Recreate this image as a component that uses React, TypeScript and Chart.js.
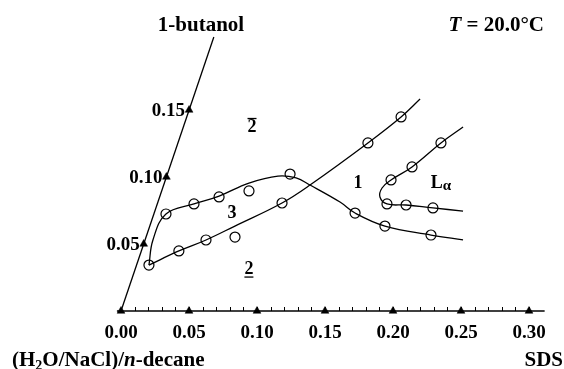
import React, { useEffect, useRef } from 'react';
import { Chart, registerables } from 'chart.js';

Chart.register(...registerables);

// ---- data (oblique coordinates: SDS mass fraction along the horizontal axis, 1-butanol along the tilted axis)
const SKEW = 0.3338; // horizontal shift of the tilted 1-butanol axis per unit butanol (in SDS units)

const sdsTicks = [0, 0.05, 0.1, 0.15, 0.2, 0.25, 0.3];
const sdsTickLabels = ['0.00', '0.05', '0.10', '0.15', '0.20', '0.25', '0.30'];
const butanolTicks = [0.05, 0.1, 0.15];
const butanolTickLabels = ['0.05', '0.10', '0.15'];
const minorStep = 0.01;
const sdsAxisEnd = 0.3115;
const butanolAxisEnd = 0.2045;

// phase boundary curves
const upperCurveSds = [0.0091, 0.0058, 0.0089, 0.027, 0.0435, 0.0622, 0.0818, 0.0956, 0.1076, 0.1339, 0.1477, 0.1729, 0.209, 0.2338];
const upperCurveBut = [0.0343, 0.053, 0.0724, 0.0799, 0.0858, 0.0955, 0.1007, 0.0993, 0.094, 0.0813, 0.0731, 0.0634, 0.0567, 0.053];
const lowerCurveSds = [0.0091, 0.0276, 0.0448, 0.0626, 0.0915, 0.1076, 0.1397, 0.1576, 0.1671];
const lowerCurveBut = [0.0343, 0.0448, 0.053, 0.0634, 0.0806, 0.094, 0.1254, 0.1448, 0.1582];
const lamellarCurveSds = [0.2057, 0.1934, 0.1781, 0.1659, 0.1613, 0.162, 0.1689, 0.1832, 0.2037, 0.2266];
const lamellarCurveBut = [0.1373, 0.1254, 0.1075, 0.0978, 0.0918, 0.0851, 0.0799, 0.0791, 0.0769, 0.0746];

// measured points
const threeUpperSds = [0.0089, 0.027, 0.0437, 0.0642, 0.0902];
const threeUpperBut = [0.0724, 0.0799, 0.0851, 0.0896, 0.1022];
const threeLowerSds = [0.0091, 0.0276, 0.0448, 0.0654, 0.0915];
const threeLowerBut = [0.0343, 0.0448, 0.053, 0.0552, 0.0806];
const onePhaseSds = [0.1477, 0.1729, 0.209, 0.1397, 0.1576];
const onePhaseBut = [0.0731, 0.0634, 0.0567, 0.1254, 0.1448];
const lamellarSds = [0.1659, 0.1781, 0.1934, 0.1689, 0.1832, 0.2037];
const lamellarBut = [0.0978, 0.1075, 0.1254, 0.0799, 0.0791, 0.0769];

// region labels: [text, sds, butanol, decoration]
const regionLabels: [string, number, number, string][] = [
  ['2', 0.0505, 0.1373, 'over'],
  ['3', 0.0572, 0.0731, ''],
  ['2', 0.0836, 0.0313, 'under'],
  ['1', 0.1424, 0.0955, ''],
  ['L', 0.2034, 0.0955, 'alpha'],
];

const W = 564;
const H = 369;
const FONT = '"Liberation Serif", "Times New Roman", serif';

const toPts = (s: number[], b: number[]) => s.map((v, i) => ({ x: v + SKEW * b[i], y: b[i] }));

const overlay = {
  id: 'overlay',
  beforeDatasetsDraw(chart: any) {
    const ctx = chart.ctx;
    const xs = chart.scales.x;
    const ys = chart.scales.y;
    const px = (s: number, b: number) => xs.getPixelForValue(s + SKEW * b);
    const py = (b: number) => ys.getPixelForValue(b);
    ctx.save();
    ctx.strokeStyle = '#000';
    ctx.lineWidth = 1.3;
    ctx.beginPath();
    ctx.moveTo(px(-0.003, 0), py(0));
    ctx.lineTo(px(sdsAxisEnd, 0), py(0));
    ctx.stroke();
    ctx.lineWidth = 1;
    for (let i = 1; i * minorStep < 0.3 + 1e-9; i++) {
      const x = Math.round(px(i * minorStep, 0)) + 0.5;
      ctx.beginPath();
      ctx.moveTo(x, py(0));
      ctx.lineTo(x, py(0) - 4);
      ctx.stroke();
    }
    ctx.lineWidth = 1.3;
    ctx.beginPath();
    ctx.moveTo(px(0, 0), py(0));
    ctx.lineTo(px(0, butanolAxisEnd), py(butanolAxisEnd));
    ctx.stroke();
    ctx.restore();
  },
  afterDatasetsDraw(chart: any) {
    const ctx = chart.ctx;
    const xs = chart.scales.x;
    const ys = chart.scales.y;
    const px = (s: number, b: number) => xs.getPixelForValue(s + SKEW * b);
    const py = (b: number) => ys.getPixelForValue(b);
    ctx.save();
    ctx.fillStyle = '#000';
    ctx.strokeStyle = '#000';
    // x tick labels
    ctx.font = `bold 19px ${FONT}`;
    ctx.textAlign = 'center';
    ctx.textBaseline = 'alphabetic';
    sdsTicks.forEach((t, i) => ctx.fillText(sdsTickLabels[i], px(t, 0), py(0) + 27));
    // tilted tick labels
    ctx.textAlign = 'right';
    butanolTicks.forEach((t, i) => ctx.fillText(butanolTickLabels[i], px(0, t) - 4, py(t) + 6));
    // titles
    ctx.font = `bold 21px ${FONT}`;
    ctx.textAlign = 'center';
    ctx.fillText('1-butanol', 201, 31);
    ctx.textAlign = 'right';
    ctx.fillText('SDS', 563, 366);
    // T = 20.0°C
    ctx.textAlign = 'left';
    ctx.font = `bold 21px ${FONT}`;
    const rest = ' = 20.0°C';
    const restW = ctx.measureText(rest).width;
    ctx.font = `italic bold 21px ${FONT}`;
    const tW = ctx.measureText('T').width;
    const x0 = 544 - restW - tW;
    ctx.fillText('T', x0, 31);
    ctx.font = `bold 21px ${FONT}`;
    ctx.fillText(rest, x0 + tW, 31);
    // (H2O/NaCl)/n-decane
    const parts: [string, string, number][] = [
      ['(H', `bold 21px ${FONT}`, 0],
      ['2', `bold 14px ${FONT}`, 4],
      ['O/NaCl)/', `bold 21px ${FONT}`, 0],
      ['n', `italic bold 21px ${FONT}`, 0],
      ['-decane', `bold 21px ${FONT}`, 0],
    ];
    let cx = 12;
    parts.forEach(([t, f, dy]) => {
      ctx.font = f;
      ctx.fillText(t, cx, 366 + dy);
      cx += ctx.measureText(t).width;
    });
    // region labels
    ctx.textAlign = 'center';
    ctx.textBaseline = 'middle';
    ctx.lineWidth = 1.3;
    regionLabels.forEach(([t, s, b, deco]) => {
      const x = px(s, b);
      const y = py(b);
      ctx.font = `bold 18px ${FONT}`;
      if (deco === 'alpha') {
        const lw = ctx.measureText(t).width;
        ctx.font = `bold 15px ${FONT}`;
        const aw = ctx.measureText('α').width;
        const left = x - (lw + aw) / 2;
        ctx.textAlign = 'left';
        ctx.font = `bold 18px ${FONT}`;
        ctx.fillText(t, left, y);
        ctx.font = `bold 15px ${FONT}`;
        ctx.fillText('α', left + lw, y + 3);
        ctx.textAlign = 'center';
        return;
      }
      ctx.fillText(t, x, y);
      if (deco === 'over') {
        ctx.beginPath();
        ctx.moveTo(x - 4.5, y - 8.5);
        ctx.lineTo(x + 4.5, y - 8.5);
        ctx.stroke();
      } else if (deco === 'under') {
        ctx.beginPath();
        ctx.moveTo(x - 4.5, y + 8);
        ctx.lineTo(x + 4.5, y + 8);
        ctx.stroke();
      }
    });
    ctx.restore();
  },
};

export default function App() {
  const ref = useRef<HTMLCanvasElement>(null);
  useEffect(() => {
    if (!ref.current) return;
    const curve = (s: number[], b: number[]) => ({
      data: toPts(s, b),
      showLine: true,
      tension: 0.4,
      borderColor: '#000',
      borderWidth: 1.3,
      pointRadius: 0,
      fill: false,
      clip: false as any,
    });
    const circles = (s: number[], b: number[]) => ({
      data: toPts(s, b),
      showLine: false,
      pointStyle: 'circle',
      pointRadius: 5,
      pointBackgroundColor: '#fff',
      pointBorderColor: '#000',
      pointBorderWidth: 1.2,
      clip: false as any,
    });
    const triangles = (pts: { x: number; y: number }[]) => ({
      data: pts,
      showLine: false,
      pointStyle: 'triangle',
      pointRadius: 4.5,
      pointBackgroundColor: '#000',
      pointBorderColor: '#000',
      pointBorderWidth: 0.5,
      clip: false as any,
    });
    const chart = new Chart(ref.current, {
      type: 'scatter',
      data: {
        datasets: [
          curve(upperCurveSds, upperCurveBut),
          curve(lowerCurveSds, lowerCurveBut),
          curve(lamellarCurveSds, lamellarCurveBut),
          circles(threeUpperSds, threeUpperBut),
          circles(threeLowerSds, threeLowerBut),
          circles(onePhaseSds, onePhaseBut),
          circles(lamellarSds, lamellarBut),
          triangles(sdsTicks.map((t) => ({ x: t, y: 0 }))),
          triangles(butanolTicks.map((t) => ({ x: SKEW * t, y: t }))),
        ] as any,
      },
      options: {
        responsive: false,
        animation: false,
        events: [],
        layout: { padding: 0, autoPadding: false },
        plugins: { legend: { display: false }, tooltip: { enabled: false }, title: { display: false } },
        scales: {
          x: { type: 'linear', display: false, min: -121 / 1360, max: 443 / 1360 },
          y: { type: 'linear', display: false, min: -58 / 1340, max: 311 / 1340 },
        },
      },
      plugins: [overlay],
    });
    return () => chart.destroy();
  }, []);
  return (
    <div style={{ position: 'fixed', left: 0, top: 0, width: W, height: H, background: '#fff' }}>
      <canvas ref={ref} width={W} height={H} style={{ width: W, height: H, display: 'block' }} />
    </div>
  );
}
